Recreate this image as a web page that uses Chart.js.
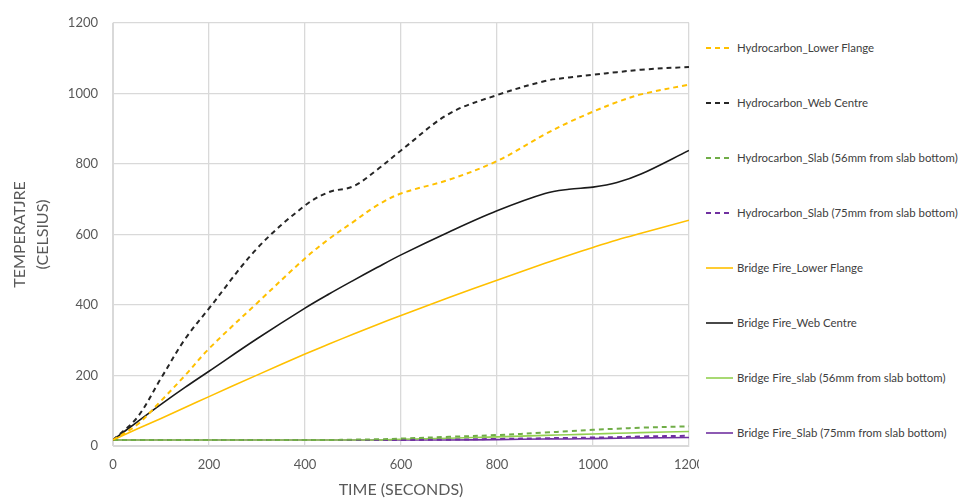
<!DOCTYPE html>
<html>
<head>
<meta charset="utf-8">
<script src="https://cdn.jsdelivr.net/npm/chart.js@4/dist/chart.umd.min.js"></script>
<style>
  html, body { margin: 0; background: #fff; }
  #wrap { position: relative; width: 965px; height: 502px; }
  #legend { position: absolute; left: 699px; top: 20px; width: 266px; height: 460px; background: #fff;
            font: 11.4px Lato, sans-serif; color: #404040; }
  .item { height: 55px; display: flex; align-items: center; padding-left: 7px; white-space: nowrap; }
  .item svg { margin-right: 4px; }
</style>
</head>
<body>
<div id="wrap">
  <canvas id="c" width="965" height="502"></canvas>
  <div id="legend"></div>
</div>
<script>
// time (s)
const T      = [0, 50, 100, 150, 200, 300, 400, 450, 500, 550, 600, 700, 800, 900, 950, 1000, 1050, 1100, 1200];
// temperatures (C)
const HC_LF  = [17, 60, 128, 200, 276, 405, 532, 587, 635, 682, 716, 755, 808, 884, 918, 948, 975, 997, 1025];
const HC_WEB = [17, 80, 192, 303, 390, 560, 682, 720, 736, 783, 838, 942, 995, 1035, 1045, 1053, 1060, 1067, 1075];
const HC_S56 = [17, 17, 17, 17, 17, 17, 17, 17, 18, 19, 21, 26, 31, 38, 42, 46, 49, 52, 56];
const HC_S75 = [17, 17, 17, 17, 17, 17, 17, 17, 17, 17, 17, 18, 20, 22, 23, 24, 25, 27, 29];
const BF_LF  = [17, 48, 78, 109, 140, 201, 261, 289, 317, 344, 370, 421, 470, 518, 541, 563, 584, 603, 640];
const BF_WEB = [17, 68, 118, 166, 212, 304, 391, 431, 469, 506, 542, 607, 667, 716, 728, 734, 747, 771, 838];
const BF_S56 = [17, 17, 17, 17, 17, 17, 17, 17, 17, 17, 19, 22, 26, 30, 32, 34, 36, 38, 41];
const BF_S75 = [17, 17, 17, 17, 17, 17, 17, 17, 17, 17, 17, 17, 18, 20, 20, 21, 22, 23, 24];

const SERIES = [
  ['Hydrocarbon_Lower Flange', HC_LF, '#FFC000', true],
  ['Hydrocarbon_Web Centre', HC_WEB, '#262626', true],
  ['Hydrocarbon_Slab (56mm from slab bottom)', HC_S56, '#70AD47', true],
  ['Hydrocarbon_Slab (75mm from slab bottom)', HC_S75, '#7030A0', true],
  ['Bridge Fire_Lower Flange', BF_LF, '#FFC000', false],
  ['Bridge Fire_Web Centre', BF_WEB, '#1a1a1a', false],
  ['Bridge Fire_slab (56mm from slab bottom)', BF_S56, '#92D050', false],
  ['Bridge Fire_Slab (75mm from slab bottom)', BF_S75, '#7030A0', false]
];

const TXT = '#595959', GRID = '#d9d9d9';

(function() {
  const datasets = SERIES.map(([label, vals, color, dashed]) => ({
    label,
    data: T.map((t, i) => ({ x: t, y: vals[i] })),
    borderColor: color,
    borderWidth: dashed ? 2 : 1.6,
    borderDash: dashed ? [5, 4] : [],
    pointRadius: 0,
    tension: 0.35,
    fill: false
  }));

  new Chart(document.getElementById('c'), {
    type: 'line',
    data: { datasets },
    options: {
      responsive: false,
      animation: false,
      devicePixelRatio: 1,
      layout: { padding: { top: 17, right: 276, left: 0, bottom: 0 } },
      plugins: { legend: { display: false }, tooltip: { enabled: false } },
      scales: {
        x: {
          type: 'linear', min: 0, max: 1200,
          ticks: { stepSize: 200, color: TXT, padding: 11, font: { family: 'Lato', size: 13 }, maxRotation: 0,
                   callback: v => String(v) },
          grid: { color: GRID, drawTicks: false, lineWidth: 1.3 },
          border: { color: GRID },
          title: { display: true, text: 'TIME (SECONDS)', color: TXT, font: { family: 'Lato', size: 16 }, padding: { bottom: 3 } },
          afterFit: s => { s.height = 56; }
        },
        y: {
          min: 0, max: 1200,
          ticks: { stepSize: 200, color: TXT, padding: 15, font: { family: 'Lato', size: 13 },
                   callback: v => String(v) },
          grid: { color: GRID, drawTicks: false, lineWidth: 1.3 },
          border: { color: GRID },
          title: { display: true, text: ['TEMPERATJRE', '(CELSIUS)'], color: TXT,
                   font: { family: 'Lato', size: 16, lineHeight: 1.4 }, padding: { top: 9 } },
          afterFit: s => { s.width = 113; }
        }
      }
    }
  });

  // legend
  const leg = document.getElementById('legend');
  leg.innerHTML = SERIES.map(([label, , color, dashed]) =>
    `<div class="item"><svg width="27" height="4"><line x1="0" y1="2" x2="27" y2="2" stroke="${color}"
      stroke-width="${dashed ? 2 : 1.6}" ${dashed ? 'stroke-dasharray="5,4"' : ''}/></svg>${label}</div>`
  ).join('');
})();
</script>
</body>
</html>
